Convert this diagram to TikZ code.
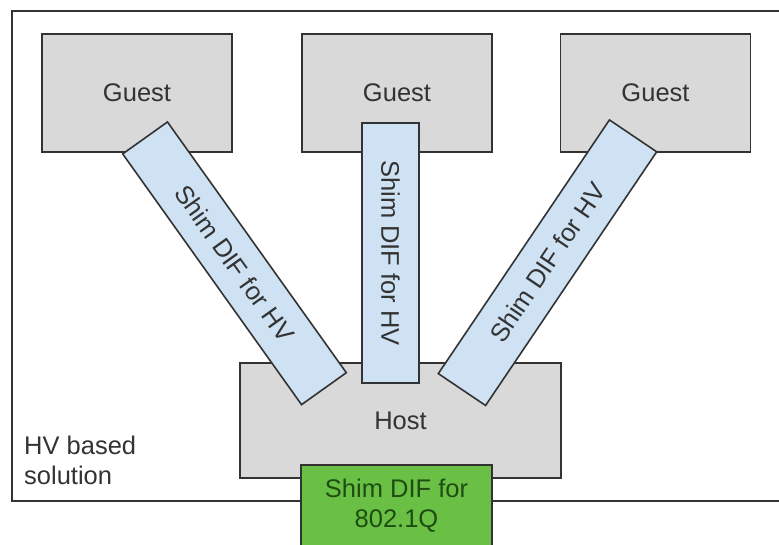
\documentclass[tikz,border=0pt]{standalone}
\usepackage{fontspec}
\setmainfont{Liberation Sans}
\usetikzlibrary{positioning}
\definecolor{cinza}{HTML}{D9D9D9}
\definecolor{azulclaro}{HTML}{CFE2F3}
\definecolor{verde}{HTML}{6ABF45}
\definecolor{verdeescuro}{HTML}{1E4D12}
\definecolor{borda}{HTML}{333333}

\begin{document}
\begin{tikzpicture}[x=1pt,y=-1pt,
		font=\fontsize{25.5}{30}\selectfont,
		caixa/.style={draw=borda,line width=1.6pt,fill=cinza,text=borda,inner sep=0pt},
		shim/.style={draw=borda,line width=1.6pt,fill=azulclaro,text=borda,inner sep=0pt},
		verdebox/.style={draw=borda,line width=1.6pt,fill=verde,text=verdeescuro,inner sep=0pt,align=center}]
		
		\clip (0,0) rectangle (779,544);
		\fill[white] (0,0) rectangle (779,544);
		
%		moldura
		\draw[borda,line width=1.6pt] (12,11) rectangle (800,501);
		\node[anchor=west,align=left,text=borda,inner sep=0pt] (rotulo) at (24,460) {HV based\\solution};
		
%		guests
		\def\gw{190pt}
		\def\gh{118pt}
		\node[caixa,minimum width=\gw,minimum height=\gh] (g1) at (137,93) {Guest};
		\node[caixa,minimum width=\gw,minimum height=\gh] (g2) at (397,93) {Guest};
		\node[caixa,minimum width=\gw,minimum height=\gh] (g3) at (655.5,93) {Guest};
		
%		host
		\node[caixa,minimum width=321pt,minimum height=115pt] (host) at (400.5,420.5) {Host};
		
%		shims inclinados
		\node[shim,minimum width=308pt,minimum height=55pt,rotate=-54.5] (shimE) at (234.5,263.3) {Shim DIF for HV};
		\node[shim,minimum width=260pt,minimum height=57pt,rotate=-90] (shimM) at (390.5,253) {Shim DIF for HV};
		\node[shim,minimum width=306pt,minimum height=57pt,rotate=56] (shimD) at (547.5,262.7) {Shim DIF for HV};
		
%		802.1Q
		\node[verdebox,minimum width=191pt,minimum height=82pt] (dif) at (396.5,506) {Shim DIF for\\802.1Q};
		
		\end{tikzpicture}
\end{document}
